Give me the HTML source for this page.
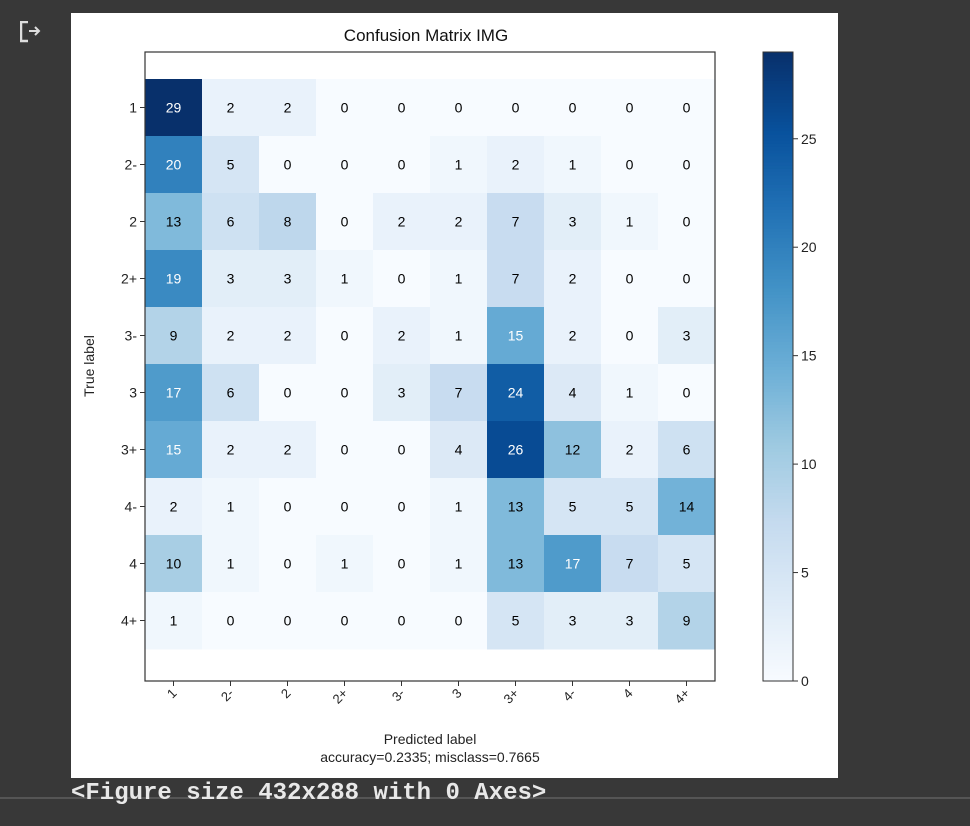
<!DOCTYPE html>
<html><head><meta charset="utf-8"><style>
body{margin:0;background:#383838;width:970px;height:826px;overflow:hidden;font-family:"Liberation Sans","DejaVu Sans",sans-serif;}
#fig{position:absolute;left:71px;top:13px;width:767px;height:765px;background:#fff;}
#foot{position:absolute;left:71px;top:782px;color:#e8e8e8;font-family:"Liberation Mono",monospace;font-weight:bold;font-size:24px;line-height:24px;}
#line{position:absolute;left:0;top:797px;width:970px;height:2px;background:#555;}
</style></head><body>
<div id="icon" style="position:absolute;left:20px;top:21px;">
<svg width="26" height="22"><path d="M8 1H1V20H8" stroke="#ddd" stroke-width="2.5" fill="none"/><path d="M9 10H19M15 6L19 10L15 14" stroke="#ddd" stroke-width="2" fill="none"/></svg></div>
<div id="fig"></div>
<div id="line"></div>
<svg id="chart" width="970" height="780" style="position:absolute;left:0;top:0"></svg>
<div id="foot">&lt;Figure size 432x288 with 0 Axes&gt;</div>
<script>
const classes=["1","2-","2","2+","3-","3","3+","4-","4","4+"];
const matrix=[
[29,2,2,0,0,0,0,0,0,0],
[20,5,0,0,0,1,2,1,0,0],
[13,6,8,0,2,2,7,3,1,0],
[19,3,3,1,0,1,7,2,0,0],
[9,2,2,0,2,1,15,2,0,3],
[17,6,0,0,3,7,24,4,1,0],
[15,2,2,0,0,4,26,12,2,6],
[2,1,0,0,0,1,13,5,5,14],
[10,1,0,1,0,1,13,17,7,5],
[1,0,0,0,0,0,5,3,3,9]];
const cbTicks=[0,5,10,15,20,25];
const NS="http://www.w3.org/2000/svg";
const svg=document.getElementById('chart');
function mk(t,a,txt){const e=document.createElementNS(NS,t);for(const k in a)e.setAttribute(k,a[k]);if(txt!==undefined)e.textContent=txt;svg.appendChild(e);return e;}
const stops=["#f7fbff","#deebf7","#c6dbef","#9ecae1","#6baed6","#4292c6","#2171b5","#08519c","#08306b"].map(h=>[1,3,5].map(i=>parseInt(h.substr(i,2),16)));
const vmax=Math.max(...matrix.flat());
function cmap(v){let t=Math.max(0,Math.min(1,v/vmax))*8;let i=Math.min(7,Math.floor(t));let f=t-i;const c=stops[i].map((a,k)=>Math.round(a+(stops[i+1][k]-a)*f));return `rgb(${c})`;}
const X0=145,CW=57,Y0=79,CH=57,AXT=52,AXB=681,AXR=715;
const xs=j=>X0+j*CW, ys=i=>Y0+i*CH;
matrix.forEach((row,i)=>row.forEach((v,j)=>{
 const r=mk('rect',{x:xs(j),y:ys(i),width:CW+0.5,height:CH+0.5,fill:cmap(v)});
 
 
 const t=mk('text',{x:xs(j)+CW/2,y:ys(i)+CH/2+5,'text-anchor':'middle','font-size':14,fill:v>vmax/2?'#fff':'#000'},v);
 
 
}));
mk('rect',{x:X0,y:AXT,width:AXR-X0,height:AXB-AXT,fill:'none',stroke:'#333','stroke-width':1.2});
classes.forEach((c,i)=>{
 mk('line',{x1:X0-5,x2:X0,y1:ys(i)+CH/2,y2:ys(i)+CH/2,stroke:'#333'});
 const t=mk('text',{x:X0-8,y:ys(i)+CH/2+5,'text-anchor':'end','font-size':14,fill:'#222'},c);
 
 
 const cx=xs(i)+CW/2;
 mk('line',{x1:cx,x2:cx,y1:AXB,y2:AXB+5,stroke:'#333'});
 const u=mk('text',{x:cx+4,y:AXB+13,'text-anchor':'end','font-size':13,fill:'#222',transform:`rotate(-45 ${cx+4} ${AXB+13})`},c);
 
 
});
let e=mk('text',{x:426,y:41,'text-anchor':'middle','font-size':17,fill:'#111'},'Confusion Matrix IMG');

e=mk('text',{x:94,y:366,'text-anchor':'middle','font-size':14,fill:'#222',transform:'rotate(-90 94 366)'},'True label');

e=mk('text',{x:430,y:744,'text-anchor':'middle','font-size':14,fill:'#222'},'Predicted label');

e=mk('text',{x:430,y:762,'text-anchor':'middle','font-size':14,fill:'#222'},'accuracy=0.2335; misclass=0.7665');

const CBX=763,CBW=30,CBT=52,CBB=681;
const cy=v=>CBB-(CBB-CBT)*v/vmax;
for(let k=0;k<200;k++){const v0=vmax*k/200,v1=vmax*(k+1)/200;
 const r=mk('rect',{x:CBX,y:cy(v1),width:CBW,height:cy(v0)-cy(v1)+0.6,fill:cmap((v0+v1)/2)});
 
 }
mk('rect',{x:CBX,y:CBT,width:CBW,height:CBB-CBT,fill:'none',stroke:'#333'});
cbTicks.forEach(v=>{mk('line',{x1:CBX+CBW,x2:CBX+CBW+5,y1:cy(v),y2:cy(v),stroke:'#333'});
 const t=mk('text',{x:CBX+CBW+8,y:cy(v)+5,'font-size':14,fill:'#222'},v);
 
 });
</script>
</body></html>
